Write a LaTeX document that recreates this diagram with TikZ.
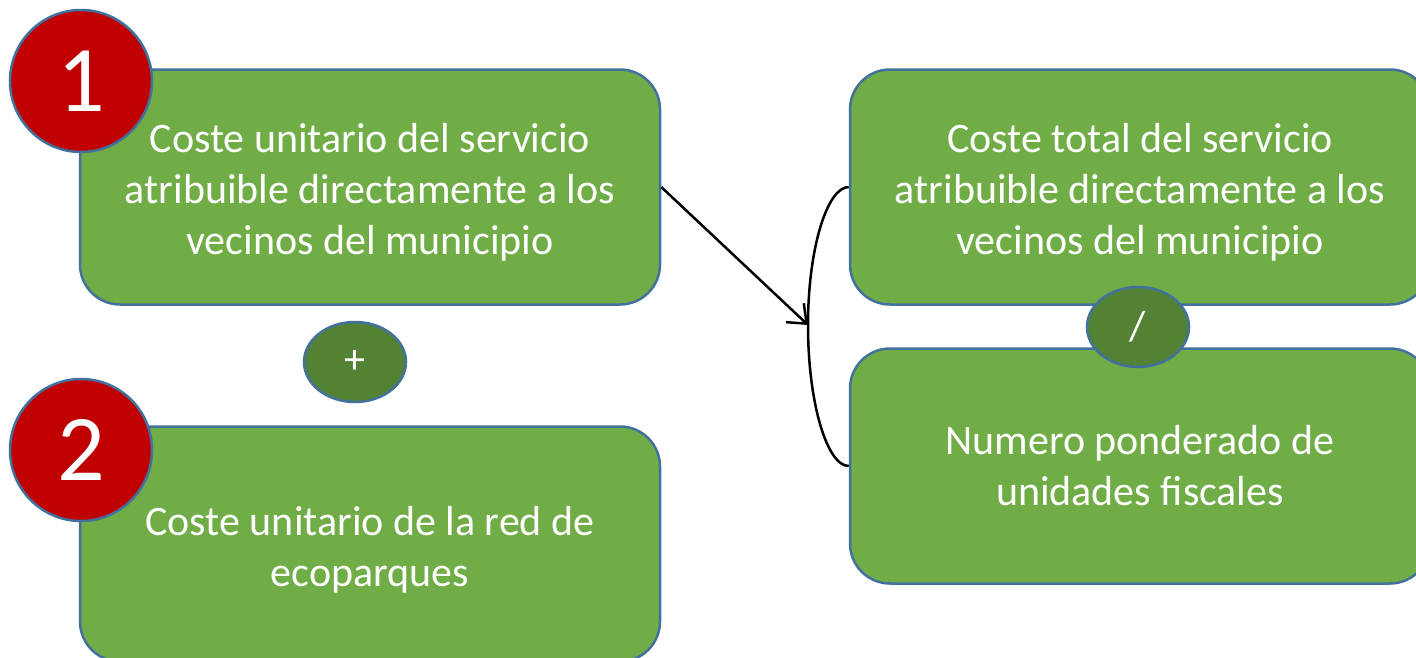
\documentclass[tikz,border=0pt]{standalone}
\usepackage{fontspec}
\setmainfont{Carlito}
\usetikzlibrary{shapes,arrows,arrows.meta}
\definecolor{boxgreen}{HTML}{70AD47}
\definecolor{opgreen}{HTML}{548235}
\definecolor{edgeblue}{HTML}{41719C}
\definecolor{numred}{HTML}{C00000}
\tikzset{%
greenbox/.style={draw=edgeblue,line width=2.5pt,fill=boxgreen,rounded corners=40pt,
  minimum width=580pt,minimum height=235pt,align=center,text=white,
  font=\fontsize{42}{51}\selectfont},
numcircle/.style={draw=edgeblue,line width=2.5pt,fill=numred,circle,minimum size=142pt,
  inner sep=0pt,text=white,font=\fontsize{94}{100}\selectfont},
opcircle/.style={draw=edgeblue,line width=2.5pt,fill=opgreen,ellipse,minimum width=102pt,
  minimum height=80pt,inner sep=0pt,text=white,font=\fontsize{42}{51}\selectfont},
}
\newcommand{\toppad}{\rule{0pt}{40pt}}
\begin{document}
\begin{tikzpicture}[x=1pt,y=-1pt]
    \useasboundingbox (0,0) rectangle (1416,657);
    \node[greenbox] (A) at (370,187) {\toppad Coste unitario del servicio\\atribuible directamente a los\\vecinos del municipio};
    \node[greenbox] (B) at (370,544) {\toppad Coste unitario de la red de\\ecoparques};
    \node[greenbox] (T) at (1140,187) {\toppad Coste total del servicio\\atribuible directamente a los\\vecinos del municipio};
    \node[greenbox] (N) at (1140,466) {Numero ponderado de\\unidades fiscales};
    \node[numcircle] (n1) at (81,81) {1};
    \node[numcircle] (n2) at (81,450) {2};
    \node[opcircle] (plus) at (355,362) {+};
    \node[opcircle] (div) at (1138,327) {/};
    \coordinate (brk) at (808,325);
    \draw[line width=2.5pt] (T.west) .. controls (827,187) and (808,249) .. (brk)
         .. controls (808,403) and (827,466) .. (N.west);
    \draw[-{Straight Barb[length=16pt,width=26pt,line width=2.5pt]},line width=2.5pt] (A.east)--(brk);
\end{tikzpicture}
\end{document}
